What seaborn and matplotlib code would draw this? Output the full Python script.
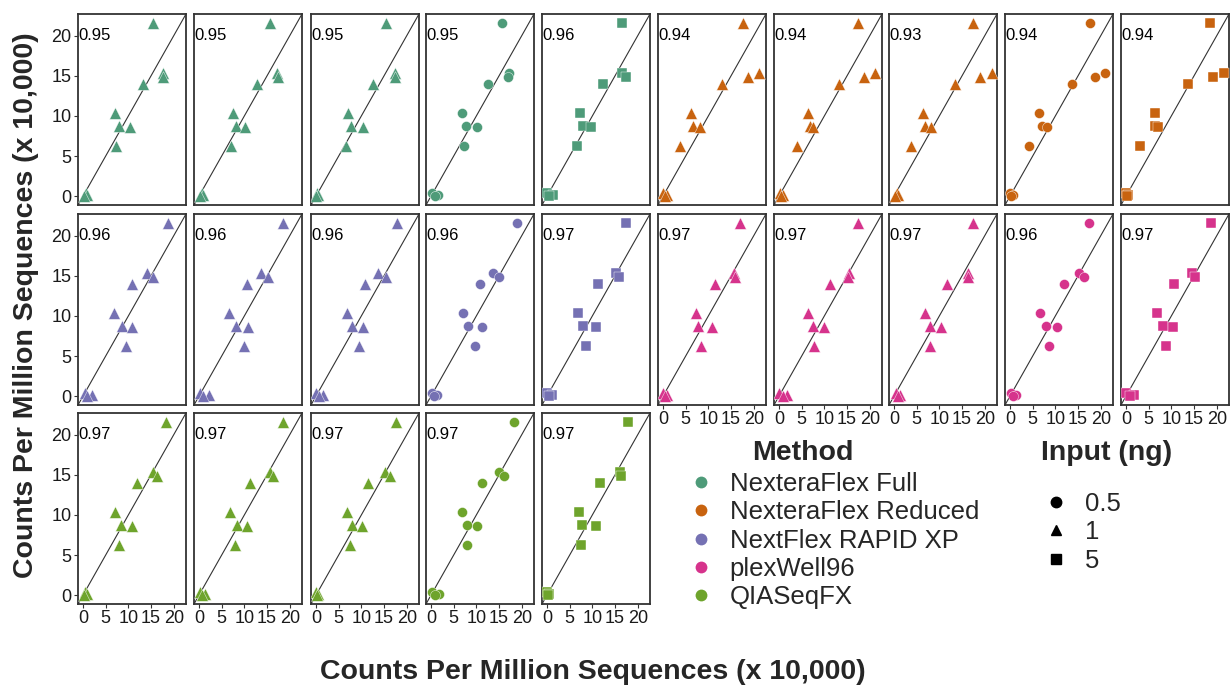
import matplotlib
matplotlib.use("Agg")
import matplotlib.pyplot as plt
from matplotlib.lines import Line2D
import pandas as pd
import seaborn as sns

# ---------------- data ----------------
METHODS = ["NexteraFlex Full", "NexteraFlex Reduced", "NextFlex RAPID XP", "plexWell96", "QIASeqFX"]
METHOD_COLORS = ["#4E9B79", "#C8630F", "#7571B3", "#D6338C", "#6EA42C"]
INPUT_LEVELS = ["0.5", "1", "5"]
INPUT_MARKERS = {"0.5": "o", "1": "^", "5": "s"}
# input amount of the five libraries shown for each method
PANEL_INPUT = ["1", "1", "1", "0.5", "5"]

# expected counts per target (y), shared by every panel
expected = [21.6, 15.3, 14.8, 14.0, 10.4, 8.8, 8.6, 6.2, 0.4, 0.2, 0.0]

# observed counts (x), one list per library
full_obs = [
    [15.5, 17.7, 17.7, 13.3, 7.1, 8.0, 10.4, 7.3, 0.7, 1.0, 0.2],
    [15.6, 17.1, 17.3, 12.7, 7.4, 8.2, 10.1, 7.1, 0.6, 1.0, 0.2],
    [15.4, 17.4, 17.4, 12.6, 7.1, 7.7, 10.4, 6.6, 0.2, 0.5, 0.0],
    [15.6, 17.2, 17.0, 12.6, 6.9, 7.7, 10.1, 7.3, 0.2, 1.6, 0.8],
    [16.5, 16.5, 17.3, 12.4, 7.3, 8.0, 9.6, 6.7, 0.0, 1.3, 0.5],
]
reduced_obs = [
    [17.6, 21.2, 18.8, 13.1, 6.2, 6.7, 8.2, 3.8, 0.1, 0.8, 0.4],
    [17.3, 21.1, 18.8, 13.3, 6.3, 6.8, 7.6, 3.9, 0.2, 0.8, 0.5],
    [17.3, 21.5, 18.9, 13.4, 6.5, 6.8, 8.1, 3.8, 0.6, 1.0, 0.2],
    [17.6, 20.9, 18.7, 13.6, 6.3, 7.1, 8.2, 4.1, 0.0, 0.6, 0.3],
    [18.4, 21.6, 19.2, 13.6, 6.4, 6.4, 7.1, 3.1, 0.0, 0.5, 0.2],
]
rapid_obs = [
    [18.8, 14.0, 15.5, 10.9, 6.9, 8.5, 10.9, 9.5, 0.5, 2.1, 1.0],
    [18.4, 13.7, 15.1, 10.5, 6.7, 8.2, 10.9, 10.0, 0.2, 2.3, 1.0],
    [17.9, 13.7, 15.4, 10.7, 6.9, 8.0, 10.4, 9.5, 0.0, 1.5, 0.6],
    [18.9, 13.6, 15.0, 10.8, 7.1, 8.2, 11.2, 9.8, 0.2, 1.3, 0.6],
    [17.5, 15.3, 15.9, 11.3, 6.9, 8.0, 10.9, 8.6, 0.0, 1.1, 0.5],
]
plexwell_obs = [
    [16.9, 15.7, 15.8, 11.5, 7.2, 7.8, 10.7, 8.4, 0.1, 0.9, 0.4],
    [17.3, 15.4, 15.2, 11.3, 6.5, 7.4, 10.0, 7.7, 0.1, 1.7, 0.8],
    [17.4, 16.2, 16.3, 11.6, 6.8, 7.9, 10.4, 7.9, 0.4, 1.3, 0.8],
    [17.4, 15.1, 16.3, 11.8, 6.6, 8.0, 10.4, 8.5, 0.2, 1.4, 0.6],
    [18.7, 14.6, 15.2, 10.5, 6.9, 8.2, 10.3, 8.9, 0.1, 1.8, 0.8],
]
qiaseq_obs = [
    [18.3, 15.5, 16.4, 11.8, 7.1, 8.3, 10.9, 7.9, 0.5, 1.0, 0.2],
    [18.4, 15.6, 16.2, 11.2, 6.8, 8.3, 10.5, 7.9, 0.2, 1.3, 0.7],
    [17.6, 15.2, 16.3, 11.5, 6.9, 7.9, 10.1, 7.5, 0.0, 0.5, 0.2],
    [18.3, 15.0, 16.1, 11.3, 6.9, 8.0, 10.1, 7.9, 0.2, 1.8, 0.8],
    [17.9, 16.1, 16.2, 11.7, 7.1, 7.8, 10.7, 7.6, 0.0, 0.5, 0.2],
]

# correlation printed in each panel
full_r = [0.95, 0.95, 0.95, 0.95, 0.96]
reduced_r = [0.94, 0.94, 0.93, 0.94, 0.94]
rapid_r = [0.96, 0.96, 0.96, 0.96, 0.97]
plexwell_r = [0.97, 0.97, 0.97, 0.96, 0.97]
qiaseq_r = [0.97, 0.97, 0.97, 0.97, 0.97]

observed = [full_obs, reduced_obs, rapid_obs, plexwell_obs, qiaseq_obs]
correlations = [full_r, reduced_r, rapid_r, plexwell_r, qiaseq_r]
# (row, first column) of each method's block of five panels
BLOCKS = [(0, 0), (0, 5), (1, 0), (1, 5), (2, 0)]

rows = []
for m, method in enumerate(METHODS):
    for p in range(5):
        for e, o in zip(expected, observed[m][p]):
            rows.append({"method": method, "panel": p, "input": PANEL_INPUT[p],
                         "expected": e, "observed": o})
df = pd.DataFrame(rows)

# ---------------- layout ----------------
W, H = 1230, 689
COL_LEFT = [78, 194, 311, 426, 542, 658, 774, 889, 1005, 1121]
ROW_TOP = [14, 214, 413]
PW, PH = 108, 191
LIM = (-1.08, 22.68)
TICKS = [0, 5, 10, 15, 20]
MARKER_SIZE = {"o": 52, "^": 72, "s": 48}

sns.set_theme(style="white")
plt.rcParams["font.family"] = ["Liberation Sans", "DejaVu Sans"]

fig = plt.figure(figsize=(W / 100, H / 100), dpi=100)


def px_axes(left, top, w, h):
    return fig.add_axes([left / W, 1 - (top + h) / H, w / W, h / H])


for m, method in enumerate(METHODS):
    row, col0 = BLOCKS[m]
    bottom_row = (row == 2) or (row == 1 and col0 == 5)
    for p in range(5):
        col = col0 + p
        ax = px_axes(COL_LEFT[col], ROW_TOP[row], PW, PH)
        sub = df[(df["method"] == method) & (df["panel"] == p)]
        ax.axline((0, 0), slope=1, color="#333333", lw=0.8, zorder=1)
        marker = INPUT_MARKERS[PANEL_INPUT[p]]
        sns.scatterplot(data=sub, x="observed", y="expected", marker=marker,
                        color=METHOD_COLORS[m], s=MARKER_SIZE[marker], edgecolor="white",
                        linewidth=0.3, ax=ax, legend=False, zorder=3)
        ax.text(-0.9, 20, f"{correlations[m][p]:.2f}", ha="left", va="center",
                fontsize=12, color="black")
        ax.set_xlim(LIM)
        ax.set_ylim(LIM)
        ax.set_xlabel("")
        ax.set_ylabel("")
        ax.set_xticks(TICKS)
        ax.set_yticks(TICKS)
        ax.tick_params(axis="both", length=3, width=0.8, color="#333333",
                       labelsize=13, pad=1.5, labelcolor="#1a1a1a")
        if col != 0:
            ax.tick_params(axis="y", left=False, labelleft=False)
        else:
            ax.tick_params(axis="y", left=True)
        if not bottom_row:
            ax.tick_params(axis="x", bottom=False, labelbottom=False)
        else:
            ax.tick_params(axis="x", bottom=True)
        for sp in ax.spines.values():
            sp.set_color("#333333")
            sp.set_linewidth(1.3)

fig.text(26 / W, 1 - 305 / H, "Counts Per Million Sequences (x 10,000)",
         rotation=90, ha="center", va="center", fontsize=20.5, fontweight="bold")
fig.text(593 / W, 1 - 672 / H, "Counts Per Million Sequences (x 10,000)",
         ha="center", va="center", fontsize=20.5, fontweight="bold")

# ---------------- legends ----------------
method_handles = [Line2D([], [], marker="o", ls="", color=c, markersize=8.5, markeredgewidth=0)
                  for c in METHOD_COLORS]
input_handles = [Line2D([], [], marker=INPUT_MARKERS[k], ls="", color="black", markersize=7.5)
                 for k in INPUT_LEVELS]

fig.text(803 / W, 1 - 453 / H, "Method", ha="center", va="center",
         fontsize=20.5, fontweight="bold")
fig.text(1107 / W, 1 - 453 / H, "Input (ng)", ha="center", va="center",
         fontsize=20.5, fontweight="bold")

fig.legend(method_handles, METHODS, loc="upper left",
           bbox_to_anchor=(686 / W, 1 - 472 / H), frameon=False,
           fontsize=18.5, handletextpad=0.5, labelspacing=0.17,
           handlelength=1.2, borderaxespad=0, borderpad=0)
fig.legend(input_handles, INPUT_LEVELS, loc="upper left",
           bbox_to_anchor=(1041 / W, 1 - 492 / H), frameon=False,
           fontsize=18.5, handletextpad=0.5, labelspacing=0.17,
           handlelength=1.2, borderaxespad=0, borderpad=0)

fig.savefig("out.png", dpi=100)
